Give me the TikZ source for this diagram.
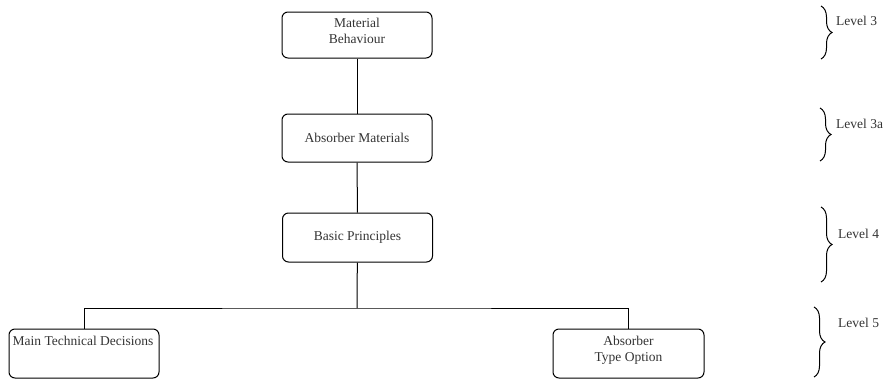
\documentclass[tikz,border=0pt]{standalone}
\usepackage{fontspec}
\setmainfont{Liberation Serif}
\usetikzlibrary{decorations.pathreplacing}
\begin{document}
\begin{tikzpicture}[x=1pt,y=-1pt,
  font=\fontsize{13.5}{16}\selectfont,
  box/.style={draw, line width=1pt, rounded corners=6pt, inner sep=0pt,
    minimum width=150pt, minimum height=48pt},
  boxtext/.style={align=center, inner sep=0pt, text=black!80},
  link/.style={draw, line width=1pt},
  levelbrace/.style={draw, line width=1pt, decorate,
    decoration={brace, amplitude=11pt}},
  leveltext/.style={anchor=west, inner sep=0pt, text=black!80}]
\useasboundingbox (0,0) rectangle (887,381);

% hierarchy boxes
\node[box, minimum height=46pt] (mb) at (357,35) {};
\node[boxtext] (mbtext) at (357,31) {Material\\Behaviour};
\node[box, boxtext] (am) at (357,138) {Absorber Materials};
\node[box, boxtext, minimum height=49pt] (bp) at (357.5,237.5) {Basic Principles};
\node[box, minimum height=49pt] (mtd) at (84,353.5) {};
\node[boxtext, anchor=north west] (mtdtext) at ([xshift=4pt,yshift=-7pt]mtd.north west) {Main Technical Decisions};
\node[box, minimum height=49pt, minimum width=151pt] (ato) at (628.5,353.5) {};
\node[boxtext] (atotext) at (628.5,350) {Absorber\\Type Option};

% connectors
\coordinate (split) at (357,308);
\draw[link] (mb) -- (am);
\draw[link] (am) -- (bp);
\draw[link] (bp) -- (split);
\draw[link] (mtd.north) |- (split) -| (ato.north);

% level braces
\coordinate (l3t) at (821,6);    \coordinate (l3b) at (821,59);
\coordinate (l3at) at (820,108); \coordinate (l3ab) at (820,161);
\coordinate (l4t) at (821,207);  \coordinate (l4b) at (821,282);
\coordinate (l5t) at (814,307);  \coordinate (l5b) at (814,377);
\draw[levelbrace] (l3t) -- (l3b);
\draw[levelbrace] (l3at) -- (l3ab);
\draw[levelbrace] (l4t) -- (l4b);
\draw[levelbrace] (l5t) -- (l5b);
\node[leveltext] (lv3) at (836,21) {Level 3};
\node[leveltext] (lv3a) at (836,124) {Level 3a};
\node[leveltext] (lv4) at (838,234) {Level 4};
\node[leveltext] (lv5) at (838,323) {Level 5};
\end{tikzpicture}
\end{document}
